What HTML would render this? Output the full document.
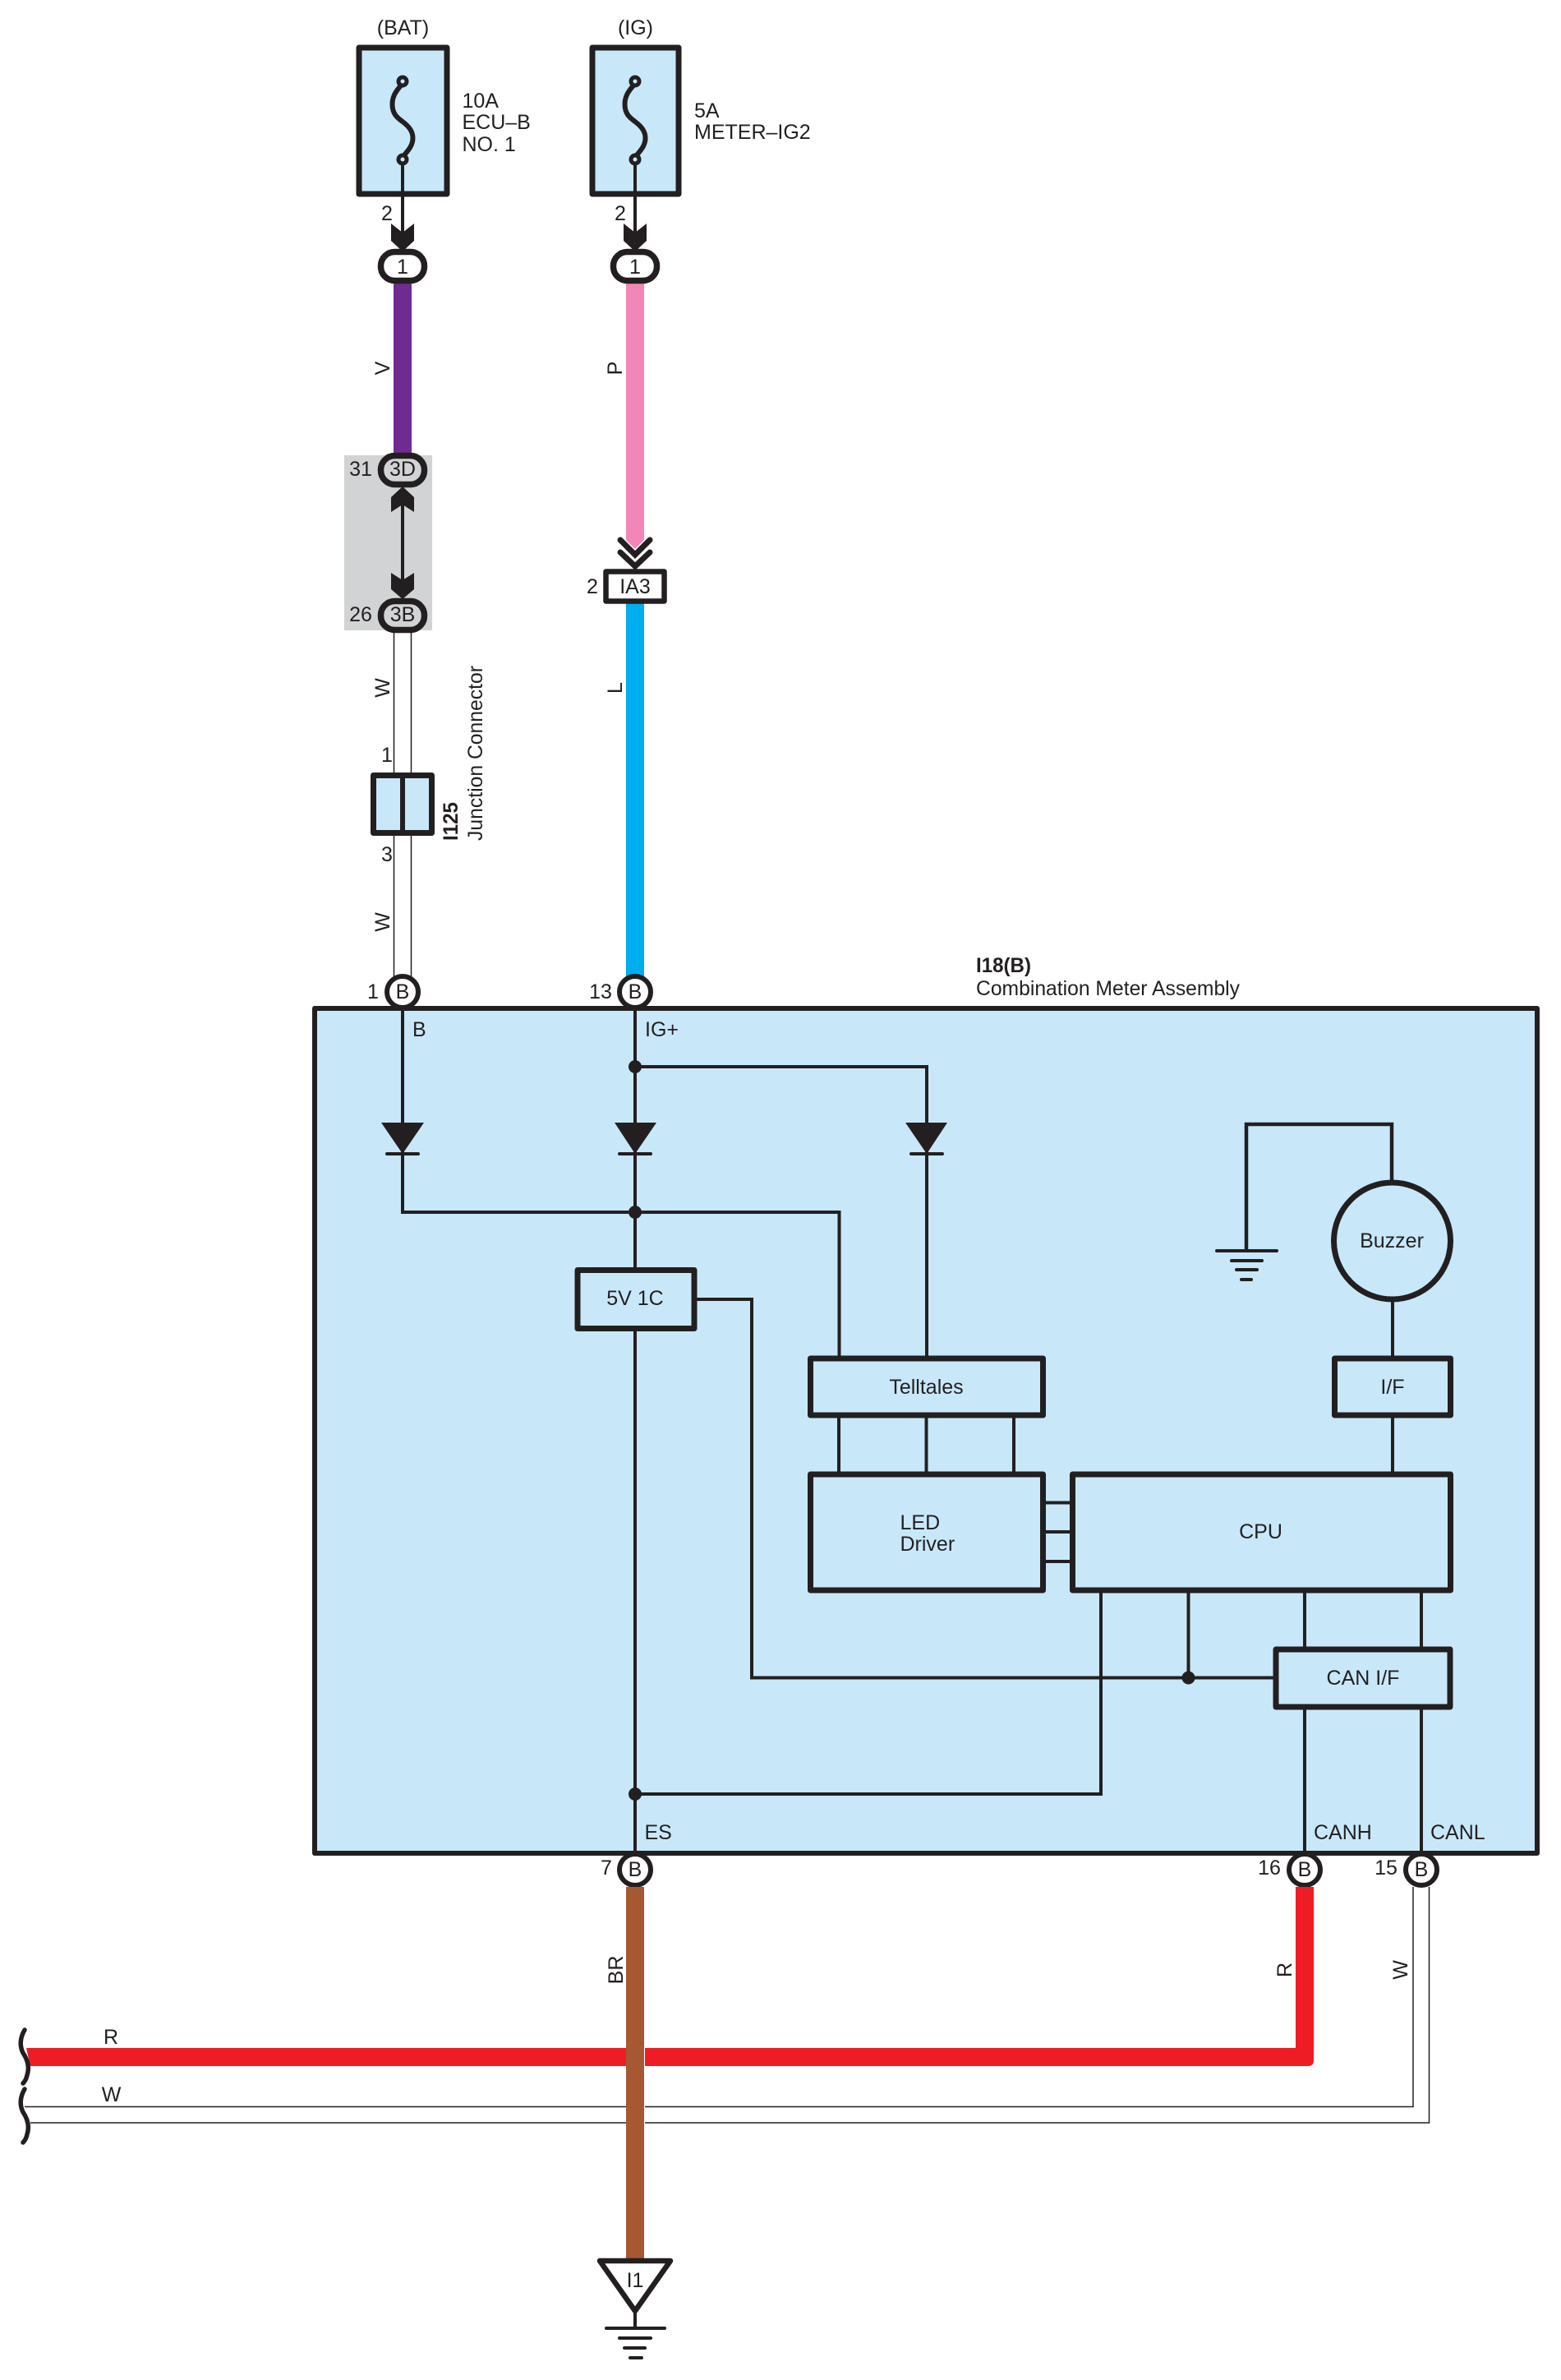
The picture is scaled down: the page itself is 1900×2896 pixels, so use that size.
<!DOCTYPE html>
<html><head><meta charset="utf-8"><title>Combination Meter Assembly</title>
<style>
html,body{margin:0;padding:0;background:#fff}
svg{display:block}
text{font-family:"Liberation Sans",sans-serif;font-size:25px;fill:#231f20}
.m{text-anchor:middle}
.b{font-weight:bold}
.box{fill:#c8e8fa;stroke:#231f20;stroke-width:7;stroke-linejoin:round}
.wbox{fill:#fff;stroke:#231f20;stroke-width:6.5;stroke-linejoin:round}
.gbox{fill:#d1d3d4;stroke:#231f20;stroke-width:7.5;stroke-linejoin:round}
.l{fill:none;stroke:#231f20;stroke-width:4}
.t{fill:none;stroke:#231f20;stroke-width:1.5}
.g{fill:none;stroke:#231f20;stroke-width:4;stroke-linecap:round}
.k{fill:#231f20}
</style></head>
<body>
<svg xmlns="http://www.w3.org/2000/svg" width="1900" height="2896" viewBox="0 0 1900 2896">
<rect width="1900" height="2896" fill="#fff"/>

<!-- grey junction block -->
<rect x="419" y="554" width="107" height="213" fill="#d1d3d4"/>

<!-- coloured wires -->
<rect x="479" y="340" width="22" height="215" fill="#6f2b91"/>
<polygon points="762,340 784,340 784,657 773,668 762,657" fill="#f287b7"/>
<rect x="762" y="733" width="22" height="455" fill="#00aeef"/>

<!-- white wire upper -->
<path class="t" d="M479.5 768V1190M500.5 768V1190"/>

<!-- Fuses -->
<rect class="box" x="437" y="58" width="107" height="178"/>
<rect class="box" x="721" y="58" width="105" height="178"/>
<g id="f1">
<path d="M488 104C481 112 477.500 118 477.500 127C477.500 138 483 143 490 148C498 154 502.500 160 502.500 168C502.500 177 497 183 490 191" fill="none" stroke="#231f20" stroke-width="6"/>
<circle cx="490" cy="99" r="5" fill="#c8e8fa" stroke="#231f20" stroke-width="5"/>
<circle cx="490" cy="194" r="5" fill="#c8e8fa" stroke="#231f20" stroke-width="5"/>
<path class="l" d="M490 199V285"/>
<polygon class="k" points="476,272 490,283 504,272 504,293 490,306 476,293"/>
</g>
<g transform="translate(283,0)">
<path d="M488 104C481 112 477.500 118 477.500 127C477.500 138 483 143 490 148C498 154 502.500 160 502.500 168C502.500 177 497 183 490 191" fill="none" stroke="#231f20" stroke-width="6"/>
<circle cx="490" cy="99" r="5" fill="#c8e8fa" stroke="#231f20" stroke-width="5"/>
<circle cx="490" cy="194" r="5" fill="#c8e8fa" stroke="#231f20" stroke-width="5"/>
<path class="l" d="M490 199V285"/>
<polygon class="k" points="476,272 490,283 504,272 504,293 490,306 476,293"/>
</g>

<text class="m" x="490.5" y="42">(BAT)</text>
<text class="m" x="773.5" y="42">(IG)</text>
<text x="562.5" y="131">10A</text>
<text x="562.5" y="157">ECU–B</text>
<text x="562.5" y="184">NO. 1</text>
<text x="845" y="143">5A</text>
<text x="845" y="169">METER–IG2</text>
<text class="m" x="471" y="268">2</text>
<text class="m" x="755" y="268">2</text>

<!-- oval connectors -->
<rect class="wbox" x="463.5" y="306.500" width="53" height="35" rx="17" style="stroke-width:7.5"/>
<rect class="wbox" x="746.5" y="306.500" width="53" height="35" rx="17" style="stroke-width:7.5"/>
<text class="m" x="490" y="333">1</text>
<text class="m" x="773" y="333">1</text>

<rect class="gbox" x="463.5" y="554.500" width="53" height="35" rx="17"/>
<rect class="gbox" x="463.5" y="731.500" width="53" height="35" rx="17"/>
<text class="m" x="490" y="579">3D</text>
<text class="m" x="490" y="756">3B</text>
<text class="m" x="439" y="579">31</text>
<text class="m" x="439" y="756">26</text>

<path class="l" d="M490 605V710"/>
<polygon class="k" points="490,592 504,605 504,623 490,614 476,623 476,605"/>
<polygon class="k" points="476,697 490,706 504,697 504,717 490,729 476,717"/>

<!-- IA3 -->
<path d="M755 657L773 675L791 657M755 672L773 689L791 672" fill="none" stroke="#231f20" stroke-width="7" stroke-linecap="round"/>
<rect class="wbox" x="737.5" y="695.500" width="71" height="36"/>
<text class="m" x="773" y="722">IA3</text>
<text class="m" x="721" y="722">2</text>

<!-- Junction connector -->
<rect class="box" x="454.500" y="943.500" width="71" height="70"/>
<path d="M490 943V1014" stroke="#231f20" stroke-width="6" fill="none"/>
<text class="m" x="471" y="927">1</text>
<text class="m" x="471" y="1048">3</text>
<text class="b" transform="translate(557,1023) rotate(-90)" textLength="47" lengthAdjust="spacingAndGlyphs">I125</text>
<text transform="translate(587,1023) rotate(-90)" textLength="213" lengthAdjust="spacingAndGlyphs">Junction Connector</text>

<!-- wire labels -->
<text class="m" transform="translate(474,448) rotate(-90)">V</text>
<text class="m" transform="translate(757,448) rotate(-90)">P</text>
<text class="m" transform="translate(474,837) rotate(-90)">W</text>
<text class="m" transform="translate(757,837) rotate(-90)">L</text>
<text class="m" transform="translate(474,1122) rotate(-90)">W</text>

<!-- Main box -->
<rect x="383" y="1227" width="1488" height="1028" fill="#c8e8fa" stroke="#231f20" stroke-width="6" stroke-linejoin="round"/>
<text class="b" x="1188" y="1183" textLength="67" lengthAdjust="spacingAndGlyphs">I18(B)</text>
<text x="1188" y="1211" textLength="321" lengthAdjust="spacingAndGlyphs">Combination Meter Assembly</text>

<!-- internal wiring -->
<path class="l" d="M490 1228V1475H1021.500V1653"/>
<path class="l" d="M773 1228V1542"/>
<path class="l" d="M773 1298H1128V1653"/>
<path class="l" d="M773 1620V2252"/>
<path class="l" d="M847 1581H915V2041.500H1553"/>
<path class="l" d="M1340 1935V2183H773"/>
<path class="l" d="M1446.500 1935V2041"/>
<path class="l" d="M1588 1935V2007M1730 1935V2007M1588 2077V2252M1730 2077V2252"/>
<path class="l" d="M1021 1722V1794M1127.500 1722V1794M1234 1722V1794"/>
<path class="l" d="M1272 1828.500H1303M1272 1864H1303M1272 1900H1303"/>
<path class="l" d="M1695 1722V1794M1695 1584V1653"/>
<path d="M1694 1436V1368H1517V1522" fill="none" stroke="#231f20" stroke-width="4.500"/>
<circle class="k" cx="773" cy="1298" r="8"/>
<circle class="k" cx="773" cy="1475" r="8"/>
<circle class="k" cx="773" cy="2183" r="8"/>
<circle class="k" cx="1446.500" cy="2041.500" r="8"/>

<!-- diodes -->
<polygon class="k" points="464,1366 516,1366 490,1404"/>
<polygon class="k" points="748,1366 799,1366 773,1404"/>
<polygon class="k" points="1102,1366 1153,1366 1128,1404"/>
<path class="g" d="M471 1404H509M754 1404H792M1109 1404H1147"/>

<!-- internal ground -->
<path class="g" d="M1481 1522H1554M1499 1534H1536M1505 1545H1530M1511 1557H1523"/>

<!-- Blocks -->
<circle cx="1694.500" cy="1510" r="71" fill="#c8e8fa" stroke="#231f20" stroke-width="7"/>
<text class="m" x="1694" y="1518">Buzzer</text>
<rect class="box" x="703" y="1545.500" width="142" height="71"/>
<text class="m" x="773" y="1588">5V 1C</text>
<rect class="box" x="986.500" y="1653" width="283" height="69"/>
<text class="m" x="1127.500" y="1696">Telltales</text>
<rect class="box" x="1624.500" y="1653" width="141" height="69"/>
<text class="m" x="1695" y="1696">I/F</text>
<rect class="box" x="986.500" y="1794" width="283" height="141"/>
<text x="1095.500" y="1861">LED</text>
<text x="1095.500" y="1887">Driver</text>
<rect class="box" x="1305.500" y="1794" width="460" height="141"/>
<text class="m" x="1534.500" y="1872">CPU</text>
<rect class="box" x="1553" y="2007" width="212" height="70"/>
<text class="m" x="1659" y="2050">CAN I/F</text>

<text x="502" y="1261">B</text>
<text x="785" y="1261">IG+</text>
<text x="784.500" y="2238">ES</text>
<text x="1599" y="2238">CANH</text>
<text x="1741" y="2238">CANL</text>

<!-- pins -->
<g fill="#fff" stroke="#231f20" stroke-width="6">
<circle cx="490" cy="1207" r="19"/>
<circle cx="773" cy="1207" r="19"/>
<circle cx="773" cy="2275" r="19"/>
<circle cx="1588" cy="2275" r="19"/>
<circle cx="1730" cy="2275" r="19"/>
</g>
<path class="l" d="M490 1226V1232M773 1226V1232M773 2252V2258M1588 2252V2258M1730 2252V2258"/>
<text class="m" x="490" y="1215">B</text>
<text class="m" x="773" y="1215">B</text>
<text class="m" x="773" y="2283">B</text>
<text class="m" x="1588" y="2283">B</text>
<text class="m" x="1730" y="2283">B</text>
<text class="m" x="454" y="1215">1</text>
<text class="m" x="731" y="1215">13</text>
<text class="m" x="738" y="2281">7</text>
<text class="m" x="1545" y="2281">16</text>
<text class="m" x="1687" y="2281">15</text>

<!-- lower wires -->
<path class="t" d="M1720 2296V2563.500H30M1739.500 2296V2583H37"/>
<path d="M32 2492H1577V2296H1599V2507Q1599 2514 1592 2514H37Z" fill="#ee1c25"/>
<rect x="784" y="2488" width="1" height="100" fill="#fff"/>
<rect x="762" y="2296" width="22" height="453" fill="#a65832"/>

<text class="m" transform="translate(758,2397) rotate(-90)">BR</text>
<text class="m" transform="translate(1572,2397) rotate(-90)">R</text>
<text class="m" transform="translate(1713,2397) rotate(-90)">W</text>
<text class="m" x="135" y="2487">R</text>
<text class="m" x="135.500" y="2557">W</text>

<!-- break marks -->
<path d="M30 2470C24 2480 24 2490 28 2498C34 2507 36 2516 33 2525C32 2530 30 2533 28 2535" fill="none" stroke="#231f20" stroke-width="5.500" stroke-linecap="round"/>
<path d="M30 2542C24 2552 24 2562 28 2570C34 2579 36 2588 33 2597C32 2602 30 2605 28 2607" fill="none" stroke="#231f20" stroke-width="5.500" stroke-linecap="round"/>

<!-- ground -->
<polygon points="730,2751 816,2751 773,2812" fill="#fff" stroke="#231f20" stroke-width="6.500" stroke-linejoin="round"/>
<text class="m" x="773" y="2783">I1</text>
<path class="l" d="M773 2811V2833"/>
<path class="g" d="M738 2833H809M754 2845H792M760 2857H785M767 2869H781"/>
</svg>
</body></html>
